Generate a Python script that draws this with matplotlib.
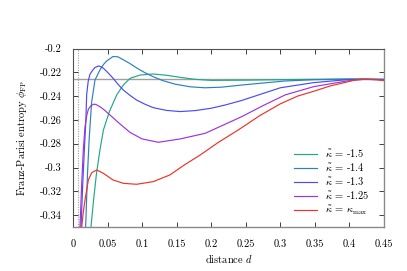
import matplotlib
matplotlib.use("Agg")
import matplotlib.pyplot as plt
from matplotlib.ticker import FixedLocator, FixedFormatter

plt.rcParams['font.family'] = ['cmr10', 'DejaVu Serif']
plt.rcParams['mathtext.fontset'] = 'cm'
plt.rcParams['axes.unicode_minus'] = False

# ---- data ----
d_m15 = [0.026, 0.030, 0.034, 0.039, 0.044, 0.0526, 0.0632, 0.0728, 0.0825, 0.097,
         0.116, 0.135, 0.155, 0.1765, 0.20, 0.25, 0.30, 0.35, 0.40, 0.45]
p_m15 = [-0.350, -0.326, -0.305, -0.2853, -0.2685, -0.2531, -0.2391, -0.2307, -0.2251, -0.2223,
         -0.2214, -0.2225, -0.2242, -0.2259, -0.2268, -0.2266, -0.2262, -0.2259, -0.2257, -0.2258]

d_m14 = [0.0183, 0.021, 0.0235, 0.027, 0.0318, 0.039, 0.044, 0.0487, 0.058, 0.065,
         0.0728, 0.082, 0.092, 0.104, 0.116, 0.13, 0.148, 0.17, 0.191, 0.215,
         0.244, 0.275, 0.307, 0.35, 0.40, 0.45]
p_m14 = [-0.350, -0.305, -0.275, -0.245, -0.2265, -0.218, -0.2135, -0.2105, -0.2067, -0.2070,
         -0.2095, -0.2125, -0.2163, -0.2203, -0.2237, -0.2270, -0.2300, -0.2322, -0.2330, -0.2325,
         -0.2307, -0.2290, -0.2273, -0.2262, -0.2257, -0.2260]

d_m13 = [0.0116, 0.0140, 0.0164, 0.0185, 0.0198, 0.022, 0.0246, 0.0294, 0.0318, 0.0366,
         0.040, 0.044, 0.050, 0.058, 0.065, 0.0728, 0.082, 0.092, 0.104, 0.116,
         0.135, 0.155, 0.1765, 0.20, 0.22, 0.244, 0.268, 0.30, 0.348, 0.396, 0.42, 0.45]
p_m13 = [-0.350, -0.315, -0.2853, -0.262, -0.2385, -0.2275, -0.2215, -0.2175, -0.2160, -0.2147,
         -0.2152, -0.2166, -0.2200, -0.2250, -0.2300, -0.2349, -0.2392, -0.2433, -0.2468, -0.2497,
         -0.2520, -0.2530, -0.2522, -0.2502, -0.2475, -0.2437, -0.2391, -0.2330, -0.2287, -0.2262,
         -0.2258, -0.2262]

d_m125 = [0.0101, 0.0125, 0.0149, 0.0174, 0.0200, 0.0222, 0.026, 0.030, 0.033, 0.039,
          0.046, 0.0535, 0.068, 0.0825, 0.100, 0.1235, 0.155, 0.191, 0.215, 0.244,
          0.275, 0.307, 0.348, 0.396, 0.42, 0.45]
p_m125 = [-0.350, -0.315, -0.2853, -0.2657, -0.2560, -0.2511, -0.2480, -0.2468, -0.2470, -0.2489,
          -0.2520, -0.2559, -0.2634, -0.2705, -0.2760, -0.2788, -0.2760, -0.2713, -0.2650, -0.2573,
          -0.2480, -0.2390, -0.2321, -0.2273, -0.2260, -0.2262]

d_max = [0.0126, 0.0150, 0.0174, 0.0222, 0.027, 0.0343, 0.044, 0.058, 0.0728, 0.092,
         0.116, 0.14, 0.162, 0.184, 0.21, 0.239, 0.27, 0.30, 0.325, 0.348,
         0.372, 0.396, 0.41, 0.425, 0.44, 0.45]
p_max = [-0.350, -0.337, -0.3273, -0.3105, -0.3044, -0.3021, -0.3049, -0.3105, -0.3133, -0.3141,
         -0.3119, -0.3063, -0.2975, -0.2895, -0.2790, -0.2685, -0.2565, -0.2465, -0.2400, -0.2360,
         -0.2315, -0.2282, -0.2262, -0.2258, -0.2263, -0.2270]

series = [
    (d_m15, p_m15, r'$\tilde{\kappa}$ = -1.5', '#22a884'),
    (d_m14, p_m14, r'$\tilde{\kappa}$ = -1.4', '#2a80c0'),
    (d_m13, p_m13, r'$\tilde{\kappa}$ = -1.3', '#4b4bf2'),
    (d_m125, p_m125, r'$\tilde{\kappa}$ = -1.25', '#9d33e0'),
    (d_max, p_max, r'$\tilde{\kappa}$ = $\kappa_{\rm max}$', '#ec3328'),
]

h_line = -0.2256
v_line = 0.0077

x_ticks = [0, 0.05, 0.1, 0.15, 0.2, 0.25, 0.3, 0.35, 0.4, 0.45]
x_labels = ['0', '0.05', '0.1', '0.15', '0.2', '0.25', '0.3', '0.35', '0.4', '0.45']
y_ticks = [-0.34, -0.32, -0.3, -0.28, -0.26, -0.24, -0.22, -0.2]
y_labels = ['-0.34', '-0.32', '-0.3', '-0.28', '-0.26', '-0.24', '-0.22', '-0.2']

# ---- figure ----
fig = plt.figure(figsize=(4.07, 2.71), dpi=100)
ax = fig.add_axes([73/407, 44/271, 311/407, 178.5/271])

ax.axhline(h_line, color='#a0a0a0', lw=1.0, zorder=1)
ax.axvline(v_line, color='#a0a0a0', lw=0.8, ls=(0, (1, 1.2)), zorder=1)

for d, p, lab, col in series:
    ax.plot(d, p, color=col, lw=0.85, label=lab, zorder=3)

ax.set_xlim(0, 0.45)
ax.set_ylim(-0.35, -0.2)
ax.xaxis.set_major_locator(FixedLocator(x_ticks))
ax.xaxis.set_major_formatter(FixedFormatter(x_labels))
ax.yaxis.set_major_locator(FixedLocator(y_ticks))
ax.yaxis.set_major_formatter(FixedFormatter(y_labels))

ax.tick_params(direction='in', length=3.5, width=0.7, top=True, right=True,
               labelsize=7.5, colors='#404040', labelcolor='black')
ax.tick_params(axis='x', pad=9)
ax.tick_params(axis='y', pad=8)

for s in ['left', 'top']:
    ax.spines[s].set_color('#505050')
    ax.spines[s].set_linewidth(0.8)
for s in ['right', 'bottom']:
    ax.spines[s].set_color('#8a8a8a')
    ax.spines[s].set_linewidth(1.0)

ax.set_xlabel(r'distance $d$', fontsize=7.5, labelpad=3)
ax.set_ylabel(r'Franz-Parisi entropy $\phi_{\rm FP}$', fontsize=7.5, labelpad=8)

leg = ax.legend(loc='lower left', bbox_to_anchor=(0.71, 0.055), frameon=False,
                fontsize=7.5, handlelength=2.2, handletextpad=0.75,
                labelspacing=0.2, borderpad=0, borderaxespad=0)

fig.savefig('out.png', dpi=100)
